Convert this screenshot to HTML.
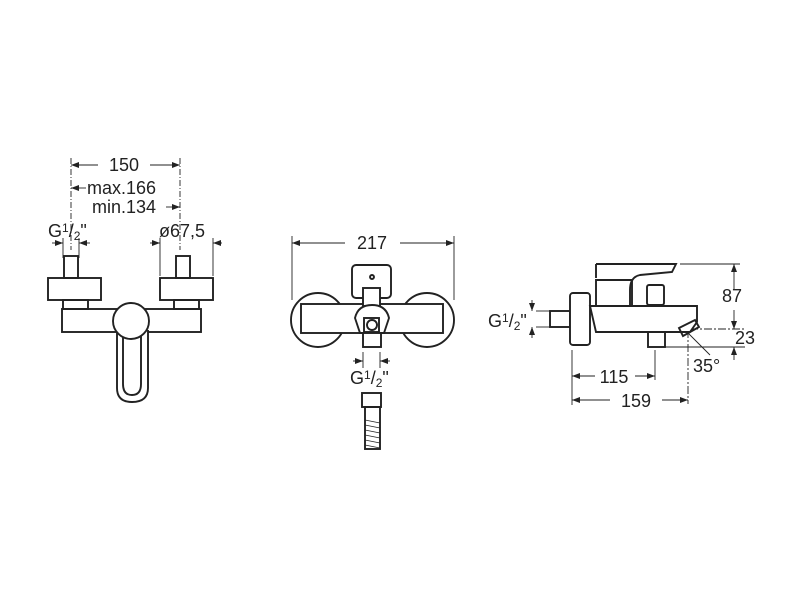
<!DOCTYPE html>
<html><head><meta charset="utf-8"><style>
html,body{margin:0;padding:0;background:#fff;}
svg{display:block;}
text{font-family:"Liberation Sans",sans-serif;font-size:18px;fill:#222;}
</style></head><body>
<svg width="800" height="600" viewBox="0 0 800 600" xmlns="http://www.w3.org/2000/svg">
<defs>
<marker id="a" markerWidth="8" markerHeight="6" refX="8" refY="3" orient="auto" markerUnits="userSpaceOnUse"><path d="M0,0 L8,3 L0,6 z" fill="#222"/></marker>
</defs>
<g stroke="#222" fill="none" stroke-width="1.9">
<!-- LEFT VIEW -->
<g stroke-width="0.9">
<line x1="71" y1="158" x2="71" y2="250" stroke-dasharray="6,2,1,2"/>
<line x1="180" y1="158" x2="180" y2="250" stroke-dasharray="6,2,1,2"/>
<line x1="98" y1="165" x2="71" y2="165" marker-end="url(#a)"/>
<line x1="150" y1="165" x2="180" y2="165" marker-end="url(#a)"/>
<line x1="86" y1="188" x2="71" y2="188" marker-end="url(#a)"/>
<line x1="166" y1="207" x2="180" y2="207" marker-end="url(#a)"/>
<line x1="52" y1="243" x2="63" y2="243" marker-end="url(#a)"/>
<line x1="90" y1="243" x2="79" y2="243" marker-end="url(#a)"/>
<line x1="63" y1="238" x2="63" y2="258"/><line x1="79" y1="238" x2="79" y2="258"/>
<line x1="150" y1="243" x2="160" y2="243" marker-end="url(#a)"/>
<line x1="222" y1="243" x2="213" y2="243" marker-end="url(#a)"/>
<line x1="160" y1="238" x2="160" y2="276"/><line x1="213" y1="238" x2="213" y2="276"/>
</g>
<rect x="64" y="256" width="14" height="22"/>
<rect x="176" y="256" width="14" height="22"/>
<rect x="48" y="278" width="53" height="22"/>
<rect x="160" y="278" width="53" height="22"/>
<rect x="63" y="300" width="25" height="9"/>
<rect x="174" y="300" width="25" height="9"/>
<rect x="62" y="309" width="139" height="23"/>
<path d="M117,330 L117,388 Q117,402 132,402 Q148,402 148,388 L148,330" fill="#fff"/>
<path d="M123,336 L123,384 Q123,395 132,395 Q141,395 141,384 L141,336"/>
<circle cx="131" cy="321" r="18" fill="#fff"/>
<!-- MIDDLE VIEW -->
<g stroke-width="0.9">
<line x1="292" y1="236" x2="292" y2="300"/><line x1="454" y1="236" x2="454" y2="300"/>
<line x1="345" y1="243" x2="292" y2="243" marker-end="url(#a)"/>
<line x1="400" y1="243" x2="454" y2="243" marker-end="url(#a)"/>
<line x1="363" y1="352" x2="363" y2="368"/><line x1="380" y1="352" x2="380" y2="368"/>
<line x1="353" y1="361" x2="363" y2="361" marker-end="url(#a)"/>
<line x1="390" y1="361" x2="380" y2="361" marker-end="url(#a)"/>
</g>
<circle cx="318" cy="320" r="27"/>
<circle cx="427" cy="320" r="27"/>
<rect x="301" y="304" width="142" height="29" fill="#fff"/>
<rect x="352" y="265" width="39" height="33" rx="4" fill="#fff"/>
<circle cx="372" cy="277" r="2"/>
<rect x="363" y="288" width="17" height="18" fill="#fff"/>
<path d="M355,318 Q358,305 372,305 Q386,305 389,318 L384,333 L360,333 Z" fill="#fff"/>
<rect x="364" y="318" width="15" height="14"/>
<circle cx="372" cy="325" r="5"/>
<rect x="363" y="333" width="18" height="14" fill="#fff"/>
<rect x="362" y="393" width="19" height="14"/>
<rect x="365" y="407" width="15" height="42"/>
<path d="M365,420 L380,423 M365,425 L380,428 M365,430 L380,433 M365,435 L380,438 M365,440 L380,443 M365,445 L380,448" stroke-width="0.8"/>
<!-- RIGHT VIEW -->
<g stroke-width="0.9">
<line x1="680" y1="264" x2="740" y2="264"/>
<line x1="734" y1="290" x2="734" y2="264" marker-end="url(#a)"/>
<line x1="734" y1="310" x2="734" y2="329" marker-end="url(#a)"/>
<line x1="690" y1="329" x2="745" y2="329" stroke-dasharray="8,2,2,2"/>
<line x1="665" y1="347" x2="745" y2="347"/>
<line x1="734" y1="360" x2="734" y2="347" marker-end="url(#a)"/>
<line x1="688" y1="330" x2="688" y2="404" stroke-dasharray="8,2,2,2"/>
<line x1="688" y1="333" x2="710" y2="355"/>
<line x1="572" y1="350" x2="572" y2="405"/>
<line x1="655" y1="350" x2="655" y2="380"/>
<line x1="595" y1="376" x2="572" y2="376" marker-end="url(#a)"/>
<line x1="635" y1="376" x2="655" y2="376" marker-end="url(#a)"/>
<line x1="610" y1="400" x2="572" y2="400" marker-end="url(#a)"/>
<line x1="662" y1="400" x2="688" y2="400" marker-end="url(#a)"/>
<line x1="536" y1="311" x2="550" y2="311"/><line x1="536" y1="327" x2="550" y2="327"/>
<line x1="532" y1="300" x2="532" y2="311" marker-end="url(#a)"/>
<line x1="532" y1="338" x2="532" y2="327" marker-end="url(#a)"/>
</g>
<rect x="550" y="311" width="20" height="16"/>
<rect x="570" y="293" width="20" height="52" rx="3" fill="#fff"/>
<path d="M596,306 L596,280 L632,280 L632,306"/>
<path d="M596,264 L676,264 L672,272 L640,275 Q630,277 630,290 L630,306"/>
<path d="M596,264 L596,278"/>
<rect x="647" y="285" width="17" height="20" rx="2"/>
<path d="M590,306 L697,306 L697,322 L690,332 L596,332 Z" fill="#fff"/>
<rect x="648" y="332" width="17" height="15"/>
<path d="M679,328 L695,320 L699,327 L683,336 Z"/>
</g>
<text x="124" y="171" text-anchor="middle">150</text>
<text x="87" y="194">max.166</text>
<text x="92" y="213">min.134</text>
<text x="48" y="237">G<tspan font-size="12" dy="-5">1</tspan><tspan dy="5">/</tspan><tspan font-size="12" dy="3">2</tspan><tspan dy="-3">"</tspan></text>
<text x="159" y="237">ø67,5</text>
<text x="372" y="249" text-anchor="middle">217</text>
<text x="350" y="384">G<tspan font-size="12" dy="-5">1</tspan><tspan dy="5">/</tspan><tspan font-size="12" dy="3">2</tspan><tspan dy="-3">"</tspan></text>
<text x="488" y="327">G<tspan font-size="12" dy="-5">1</tspan><tspan dy="5">/</tspan><tspan font-size="12" dy="3">2</tspan><tspan dy="-3">"</tspan></text>
<text x="722" y="302">87</text>
<text x="735" y="344">23</text>
<text x="693" y="372">35°</text>
<text x="614" y="383" text-anchor="middle">115</text>
<text x="636" y="407" text-anchor="middle">159</text>
</svg>
</body></html>
